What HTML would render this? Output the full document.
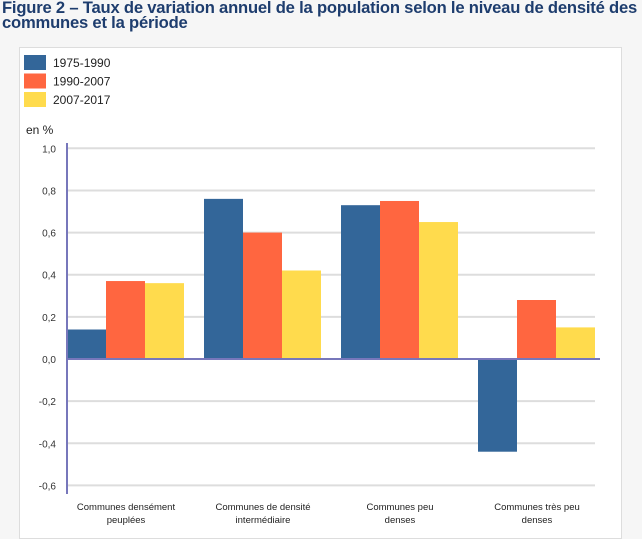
<!DOCTYPE html>
<html><head><meta charset="utf-8"><style>
body{margin:0;width:642px;height:529px;background:#f6f6f6;font-family:"Liberation Sans",sans-serif;overflow:hidden;position:relative}
h1{position:absolute;left:2px;top:0;margin:0;font-size:16.6px;line-height:15px;color:#1e3d6e;font-weight:bold;letter-spacing:-0.2px;white-space:nowrap}
#panel{position:absolute;left:19px;top:47px;width:601px;height:490px;background:#fff;border:1px solid #ddd}
svg{position:absolute;left:0;top:0}
</style></head><body>
<h1>Figure 2 – Taux de variation annuel de la population selon le niveau de densité des<br>communes et la période</h1>
<div id="panel"></div>
<svg id="chart" width="642" height="529"></svg>
<script>
const categories=[["Communes densément","peuplées"],["Communes de densité","intermédiaire"],["Communes peu","denses"],["Communes très peu","denses"]];
const seriesNames=["1975-1990","1990-2007","2007-2017"];
const s1975=[0.14,0.76,0.73,-0.44];
const s1990=[0.37,0.60,0.75,0.28];
const s2007=[0.36,0.42,0.65,0.15];
const ticks=[1.0,0.8,0.6,0.4,0.2,0.0,-0.2,-0.4,-0.6];
const tickLabels=["1,0","0,8","0,6","0,4","0,2","0,0","-0,2","-0,4","-0,6"];
const colors=["#336699","#ff6640","#ffdb4d"];
const NS="http://www.w3.org/2000/svg";
const svg=document.getElementById('chart');
function y(v){return 359-v*210.7;}
function x(i){return 67+i*137;}
function mk(t,a){const e=document.createElementNS(NS,t);for(const k in a)e.setAttribute(k,a[k]);svg.appendChild(e);return e;}
ticks.forEach((t,i)=>{
 if(t!==0){const g=mk('line',{x1:67,x2:595,y1:y(t),y2:y(t),stroke:'#ddd','stroke-width':2});
 
 }
 const l=mk('text',{x:56,y:y(t)+4,'text-anchor':'end','font-size':10,fill:'#333'});l.textContent=tickLabels[i];
 
 
});
const yt=mk('text',{x:26,y:134,'font-size':12,fill:'#222'});yt.textContent='en %';


[s1975,s1990,s2007].forEach((s,si)=>{s.forEach((v,ci)=>{
 const r=mk('rect',{x:x(ci)+si*39,y:Math.min(y(v),y(0)),width:39,height:Math.abs(y(v)-y(0)),fill:colors[si]});
 
 
});});
const ax=mk('line',{x1:67,x2:67,y1:143,y2:494,stroke:'#7777bb','stroke-width':2});


const zx=mk('line',{x1:67,x2:600,y1:y(0),y2:y(0),stroke:'#7777bb','stroke-width':2});


categories.forEach((c,i)=>{c.forEach((ln,j)=>{
 const t=mk('text',{x:x(i)+59,y:510+j*13,'text-anchor':'middle','font-size':9.5,fill:'#222'});t.textContent=ln;
 
 
});});
seriesNames.forEach((n,i)=>{
 const r=mk('rect',{x:24,y:55+i*18.5,width:22,height:15,fill:colors[i]});
 
 
 const t=mk('text',{x:53,y:67+i*18.5,'font-size':12,fill:'#222'});t.textContent=n;
 
 
});
</script>
</body></html>
